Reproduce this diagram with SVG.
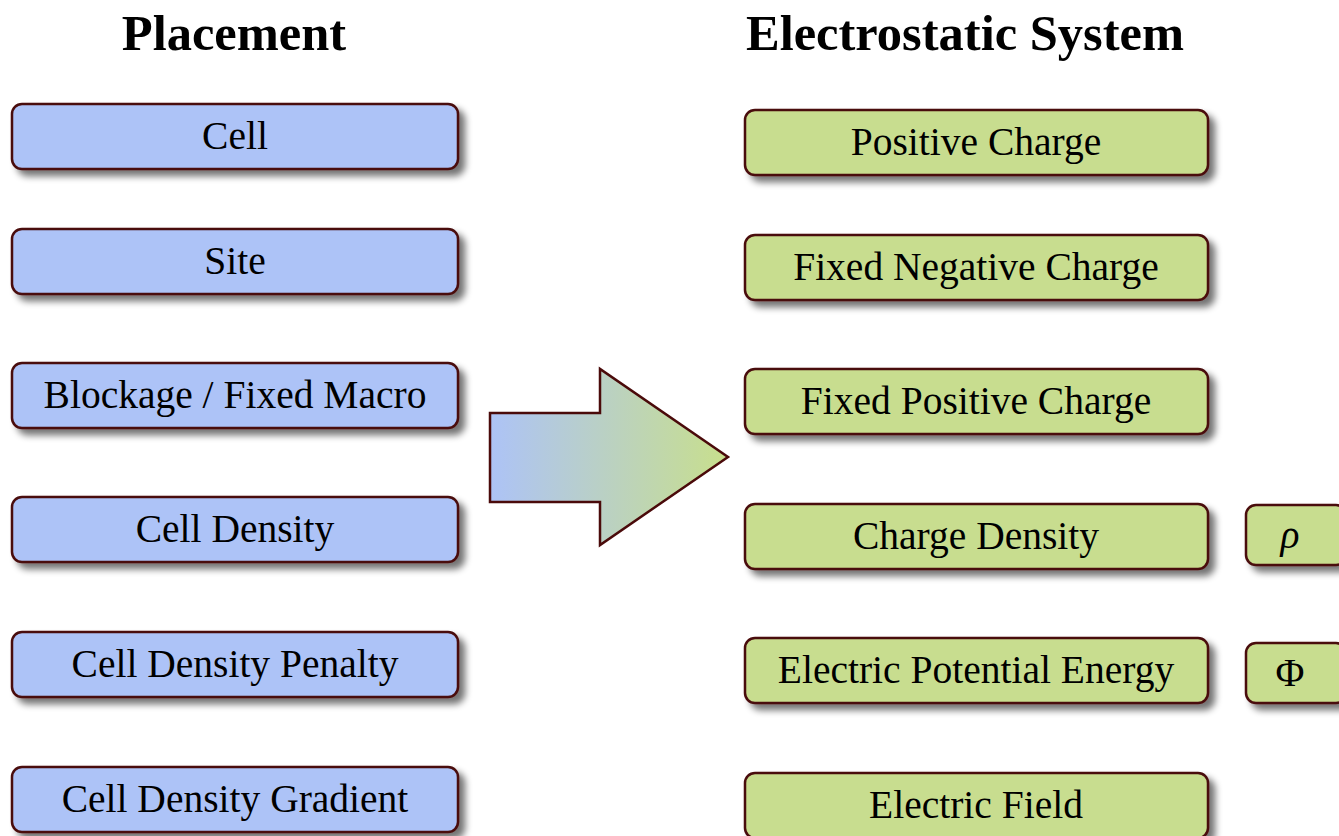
<svg xmlns="http://www.w3.org/2000/svg" width="1339" height="836" viewBox="0 0 1339 836">
  <defs>
    <filter id="shadow" x="-10%" y="-30%" width="125%" height="170%">
      <feGaussianBlur in="SourceAlpha" stdDeviation="3.5"/>
      <feOffset dx="6" dy="6" result="b"/>
      <feComponentTransfer><feFuncA type="linear" slope="0.55"/></feComponentTransfer>
      <feMerge><feMergeNode/><feMergeNode in="SourceGraphic"/></feMerge>
    </filter>
    <linearGradient id="arrowFill" x1="0" y1="0" x2="1" y2="0">
      <stop offset="0" stop-color="#adc3f7"/>
      <stop offset="1" stop-color="#c8df8c"/>
    </linearGradient>
  </defs>
  <style>
    .title { font-family: "Liberation Serif", serif; font-weight: bold; font-size: 50.5px; fill: #000; text-anchor: middle; }
    .lbl { font-family: "Liberation Serif", serif; font-size: 39.5px; fill: #000; text-anchor: middle; }
    .box { stroke: #4a0a0a; stroke-width: 2.5; filter: url(#shadow); }
    .blue { fill: #adc3f7; }
    .green { fill: #c8dd8f; }
  </style>
  <rect width="1339" height="836" fill="#fff"/>

  <text class="title" x="234" y="50">Placement</text>
  <text class="title" x="965" y="50">Electrostatic System</text>

  <!-- placement concepts -->
  <g id="cell"><rect class="box blue" x="12" y="104" width="446" height="65" rx="10"/><text class="lbl" x="235" y="149">Cell</text></g>
  <g id="site"><rect class="box blue" x="12" y="229" width="446" height="65" rx="10"/><text class="lbl" x="235" y="274">Site</text></g>
  <g id="blockage"><rect class="box blue" x="12" y="363" width="446" height="65" rx="10"/><text class="lbl" x="235" y="408">Blockage / Fixed Macro</text></g>
  <g id="cell-density"><rect class="box blue" x="12" y="497" width="446" height="65" rx="10"/><text class="lbl" x="235" y="542">Cell Density</text></g>
  <g id="cell-density-penalty"><rect class="box blue" x="12" y="632" width="446" height="65" rx="10"/><text class="lbl" x="235" y="677">Cell Density Penalty</text></g>
  <g id="cell-density-gradient"><rect class="box blue" x="12" y="767" width="446" height="65" rx="10"/><text class="lbl" x="235" y="812">Cell Density Gradient</text></g>

  <!-- electrostatic analogues -->
  <g id="positive-charge"><rect class="box green" x="745" y="110" width="463" height="65" rx="10"/><text class="lbl" x="976" y="155">Positive Charge</text></g>
  <g id="fixed-negative-charge"><rect class="box green" x="745" y="235" width="463" height="65" rx="10"/><text class="lbl" x="976" y="280">Fixed Negative Charge</text></g>
  <g id="fixed-positive-charge"><rect class="box green" x="745" y="369" width="463" height="65" rx="10"/><text class="lbl" x="976" y="414">Fixed Positive Charge</text></g>
  <g id="charge-density"><rect class="box green" x="745" y="504" width="463" height="65" rx="10"/><text class="lbl" x="976" y="549">Charge Density</text></g>
  <g id="electric-potential-energy"><rect class="box green" x="745" y="638" width="463" height="65" rx="10"/><text class="lbl" x="976" y="683">Electric Potential Energy</text></g>
  <g id="electric-field"><rect class="box green" x="745" y="773" width="463" height="65" rx="10"/><text class="lbl" x="976" y="818">Electric Field</text></g>

  <!-- symbols -->
  <g id="rho"><rect class="box green" x="1246" y="505" width="100" height="60" rx="10"/><text class="lbl" x="1290" y="548" font-style="italic">ρ</text></g>
  <g id="phi"><rect class="box green" x="1246" y="643" width="100" height="60" rx="10"/><text class="lbl" x="1290" y="686">Φ</text></g>

  <!-- mapping arrow -->
  <g id="connectors">
    <polygon points="490,413 600,413 600,369 728,457 600,545 600,502 490,502" fill="url(#arrowFill)" stroke="#4a0a0a" stroke-width="2.5" stroke-linejoin="miter"/>
  </g>
</svg>
